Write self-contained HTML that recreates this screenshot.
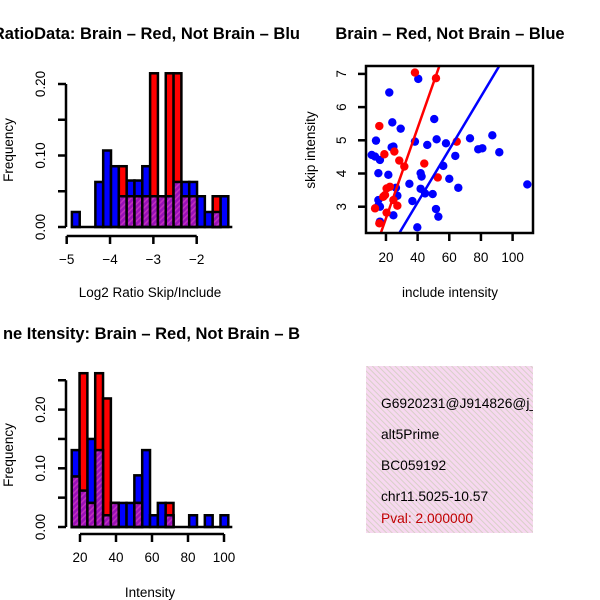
<!DOCTYPE html>
<html><head><meta charset="utf-8"><style>
html,body{margin:0;padding:0;background:#fff;}
svg{display:block;font-family:"Liberation Sans",sans-serif;}
</style></head><body>
<svg id="chart" width="600" height="600" viewBox="0 0 600 600" xmlns="http://www.w3.org/2000/svg">
<defs>
<pattern id="hatch" patternUnits="userSpaceOnUse" width="4" height="4" patternTransform="rotate(45)">
<rect width="4" height="4" fill="#9a10b8"/><rect width="1.5" height="4" fill="#c030c0"/>
</pattern>
<pattern id="pinkhatch" patternUnits="userSpaceOnUse" width="4" height="4" patternTransform="rotate(-45)">
<rect width="4" height="4" fill="#f7d8f0"/><rect width="1" height="4" fill="#d8d0c8"/>
</pattern>
<clipPath id="infoclip"><rect x="366" y="366" width="167" height="167"/></clipPath>
</defs>
<g id="g1"></g>
<g id="g2"></g>
<g id="g3"></g>
<g>
<rect x="366" y="366" width="167" height="167" fill="url(#pinkhatch)"/>
<g clip-path="url(#infoclip)" font-size="13.8">
<text x="381" y="408">G6920231@J914826@j_</text>
<text x="381" y="439">alt5Prime</text>
<text x="381" y="470">BC059192</text>
<text x="381" y="501">chr11.5025-10.57</text>
<text x="381" y="523" fill="#c00000">Pval: 2.000000</text>
</g></g>
</svg>
<script>
// ---- Panel 1 data: log2 ratio histogram ----
const ratioBinStart = -4.88;
const ratioBinWidth = 0.1805;
const ratioBlue = [0.021,0,0,0.063,0.107,0.085,0.043,0.065,0.065,0.085,0.043,0.043,0.043,0.063,0.063,0.063,0.043,0.021,0.021,0.043];
const ratioRed  = [0,0,0,0,0,0,0.085,0.043,0.043,0.043,0.215,0.043,0.215,0.215,0.043,0.043,0,0,0.043,0];
const ratioXTicks = [-5,-4,-3,-2];
const ratioYTicks = [0,0.05,0.10,0.15,0.20];
const ratioYLabels = ["0.00","0.10","0.20"];
// ---- Panel 2 data: scatter ----
const blueX = [40.4,22.1,24.0,29.3,50.5,13.7,38.3,52.0,46.1,57.9,73.1,87.2,24.7,23.6,78.3,80.9,91.6,11.0,13.1,16.2,63.8,56.2,15.2,21.5,41.9,42.5,60.0,34.8,65.7,109.3,41.9,44.7,49.5,26.3,27.2,15.2,15.2,16.2,36.7,51.6,53.1,24.7,16.2,39.8];
const blueY = [6.85,6.44,5.54,5.35,5.64,4.99,4.96,5.03,4.86,4.91,5.06,5.15,4.81,4.79,4.73,4.76,4.64,4.56,4.51,4.41,4.53,4.23,4.01,3.96,4.01,3.91,3.84,3.69,3.57,3.67,3.54,3.40,3.38,3.57,3.33,3.20,3.03,3.00,3.17,2.93,2.70,2.74,2.55,2.38];
const redX = [38.3,51.6,15.8,19.0,25.3,28.4,31.6,44.2,64.7,52.7,20.4,22.5,18.3,19.4,27.2,13.1,20.4,15.8,24.7];
const redY = [7.04,6.87,5.43,4.58,4.66,4.39,4.21,4.30,4.96,3.88,3.55,3.60,3.30,3.35,3.03,2.95,2.82,2.50,3.20];
const fitIntercepts = [-0.07,-0.06]; // red, blue
const fitSlopes = [0.136,0.0797];
const scatXTicks = [20,40,60,80,100];
const scatYTicks = [3,4,5,6,7];
// ---- Panel 3 data: intensity histogram ----
const intBinStart = 15.4;
const intBinWidth = 4.35;
const intBlue = [0.131,0.062,0.150,0.131,0.020,0.041,0.041,0.041,0.088,0.131,0.020,0.041,0.020,0,0,0.020,0,0.020,0,0.020];
const intRed  = [0.086,0.262,0.041,0.262,0.219,0.041,0,0,0.041,0,0,0,0.041,0,0,0,0,0,0,0];
const intXTicks = [20,40,60,80,100];
const intYTicks = [0,0.05,0.10,0.15,0.20,0.25];
const intYLabels = ["0.00","0.10","0.20"];

const FS = 13.5, TFS = 16.5;
const NS="http://www.w3.org/2000/svg";
function mk(parent,tag,attrs,text){const e=document.createElementNS(NS,tag);for(const k in attrs)e.setAttribute(k,attrs[k]);if(text!==undefined)e.textContent=text;parent.appendChild(e);return e;}

function histogram(g,cfg){
  const sx=v=>cfg.x0px+(v-cfg.x0)*cfg.kx;
  const sy=v=>cfg.basePx-v*cfg.ky;
  const n=cfg.blue.length;
  const layers=[["blue",cfg.blue,"#0000ff"],["red",cfg.red,"#ff0000"]];
  for(const [nm,arr,col] of layers){
    for(let i=0;i<n;i++){ if(arr[i]<=0) continue;
      const x=sx(cfg.binStart+i*cfg.binW), x2=sx(cfg.binStart+(i+1)*cfg.binW);
      const r=mk(g,"rect",{x:x,y:sy(arr[i]),width:x2-x,height:sy(0)-sy(arr[i]),fill:col,stroke:"#000","stroke-width":2.5});
      
      
    }
  }
  for(let i=0;i<n;i++){ const m=Math.min(cfg.blue[i],cfg.red[i]); if(m<=0) continue;
    const x=sx(cfg.binStart+i*cfg.binW), x2=sx(cfg.binStart+(i+1)*cfg.binW);
    const r=mk(g,"rect",{x:x,y:sy(m),width:x2-x,height:sy(0)-sy(m),fill:"url(#hatch)",stroke:"#000","stroke-width":2.5});
    
    
  }
  const bl=mk(g,"line",{x1:sx(cfg.binStart)-1,x2:sx(cfg.binStart+n*cfg.binW)+4,y1:sy(0),y2:sy(0),stroke:"#000","stroke-width":2.5});
  
  
  const xa=mk(g,"g",{});
  
  
  const t0=cfg.xTicks[0],t1=cfg.xTicks[cfg.xTicks.length-1];
  mk(xa,"line",{x1:sx(t0),x2:sx(t1),y1:cfg.axY,y2:cfg.axY,stroke:"#000","stroke-width":2.5});
  for(const t of cfg.xTicks){
    mk(xa,"line",{x1:sx(t),x2:sx(t),y1:cfg.axY,y2:cfg.axY+8,stroke:"#000","stroke-width":2.5});
    const lb=mk(xa,"text",{x:sx(t),y:cfg.axY+28,"text-anchor":"middle","font-size":FS},String(t).replace("-","\u2212"));
    
    
  }
  const ya=mk(g,"g",{});
  
  
  const yt=cfg.yTicks;
  mk(ya,"line",{x1:66,x2:66,y1:sy(yt[0]),y2:sy(yt[yt.length-1]),stroke:"#000","stroke-width":2.5});
  yt.forEach(t=>mk(ya,"line",{x1:58,x2:66,y1:sy(t),y2:sy(t),stroke:"#000","stroke-width":2.5}));
  cfg.yLabels.forEach(s=>{const v=parseFloat(s);
    const lb=mk(ya,"text",{x:0,y:0,"text-anchor":"middle","font-size":FS,transform:`translate(45,${sy(v)}) rotate(-90)`},s);
    
    
  });
  const yl=mk(g,"text",{transform:`translate(13,${cfg.yTitleY}) rotate(-90)`,"text-anchor":"middle","font-size":FS},"Frequency");
  
  
  const xl=mk(g,"text",{x:150,y:cfg.xTitleY,"text-anchor":"middle","font-size":FS},cfg.xTitle);
  
  
  const tt=mk(g,"text",{x:cfg.titleEnd,y:cfg.titleY,"text-anchor":"end","font-size":TFS,"font-weight":"bold"},cfg.title);
  
  
}

histogram(document.getElementById("g1"),{x0:-5,x0px:66.7,kx:43.33,basePx:227,ky:715,
  binStart:ratioBinStart,binW:ratioBinWidth,blue:ratioBlue,red:ratioRed,xTicks:ratioXTicks,yTicks:ratioYTicks,yLabels:ratioYLabels,
  axY:236,yTitleY:150,xTitleY:297,xTitle:"Log2 Ratio Skip/Include",titleEnd:300,titleY:39,title:"RatioData: Brain \u2013 Red, Not Brain \u2013 Blu"});
histogram(document.getElementById("g3"),{x0:20,x0px:80,kx:1.8,basePx:527,ky:587,
  binStart:intBinStart,binW:intBinWidth,blue:intBlue,red:intRed,xTicks:intXTicks,yTicks:intYTicks,yLabels:intYLabels,
  axY:534,yTitleY:455,xTitleY:597,xTitle:"Intensity",titleEnd:300,titleY:339,title:"ne Itensity: Brain \u2013 Red, Not Brain \u2013 B"});

(function(){
  const g=document.getElementById("g2");
  const sx=v=>354.3+v*1.583, sy=v=>206.7-(v-3)*33.2;
  const cp=mk(g.ownerSVGElement.querySelector("defs"),"clipPath",{id:"scatclip"});
  mk(cp,"rect",{x:366,y:66,width:167,height:167});
  const pts=mk(g,"g",{"clip-path":"url(#scatclip)"});
  blueX.forEach((x,i)=>{const c=mk(pts,"circle",{cx:sx(x),cy:sy(blueY[i]),r:4.2,fill:"#0000ff"});
    
    });
  redX.forEach((x,i)=>{const c=mk(pts,"circle",{cx:sx(x),cy:sy(redY[i]),r:4.2,fill:"#ff0000"});
    
    });
  const cols=["#ff0000","#0000ff"],names=["red-fit-line","blue-fit-line"];
  fitSlopes.forEach((b,i)=>{const a=fitIntercepts[i];
    const l=mk(pts,"line",{x1:sx(0),y1:sy(a),x2:sx(130),y2:sy(a+b*130),stroke:cols[i],"stroke-width":2.5});
    
    });
  const fr=mk(g,"rect",{x:366,y:66,width:167,height:167,fill:"none",stroke:"#000","stroke-width":2.5});
  
  
  scatXTicks.forEach(t=>{mk(g,"line",{x1:sx(t),x2:sx(t),y1:233,y2:241,stroke:"#000","stroke-width":2.5});
    const lb=mk(g,"text",{x:sx(t),y:262,"text-anchor":"middle","font-size":FS},String(t));
    
    });
  scatYTicks.forEach(t=>{mk(g,"line",{x1:358,x2:366,y1:sy(t),y2:sy(t),stroke:"#000","stroke-width":2.5});
    const lb=mk(g,"text",{transform:`translate(346,${sy(t)}) rotate(-90)`,"text-anchor":"middle","font-size":FS},String(t));
    
    });
  const yl=mk(g,"text",{transform:"translate(315,150) rotate(-90)","text-anchor":"middle","font-size":FS},"skip intensity");
  
  
  const xl=mk(g,"text",{x:450,y:297,"text-anchor":"middle","font-size":FS},"include intensity");
  
  
  const tt=mk(g,"text",{x:450,y:39,"text-anchor":"middle","font-size":TFS,"font-weight":"bold"},"Brain \u2013 Red, Not Brain \u2013 Blue");
  
  
})();
</script>
</body></html>
